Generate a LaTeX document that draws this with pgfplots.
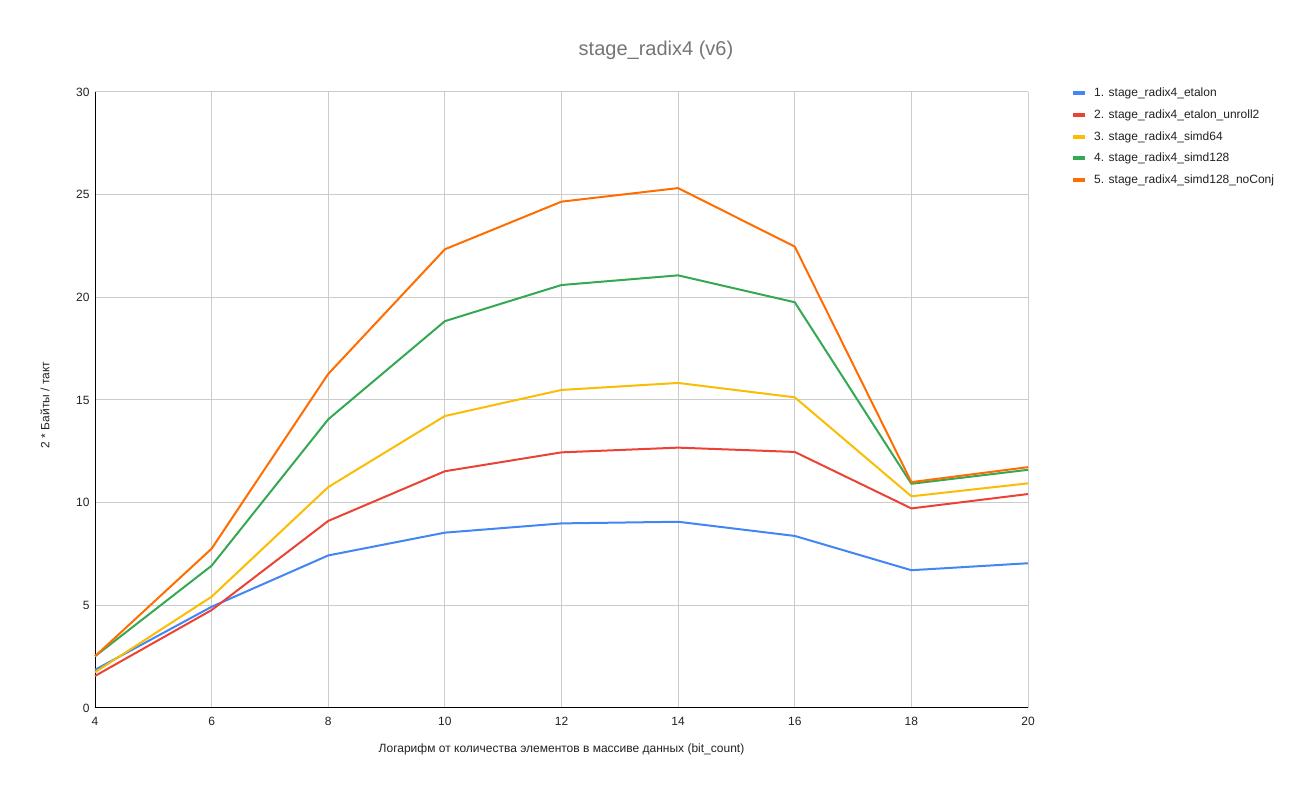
\documentclass[border=0pt]{standalone}
\usepackage{fontspec}
\setmainfont{Liberation Sans}
\usepackage{pgfplots}
\pgfplotsset{compat=1.18}
\definecolor{cBlue}{HTML}{4285F4}
\definecolor{cRed}{HTML}{EA4335}
\definecolor{cYellow}{HTML}{FBBC04}
\definecolor{cGreen}{HTML}{34A853}
\definecolor{cOrange}{HTML}{FF6D01}
\definecolor{cGrid}{HTML}{CCCCCC}
\definecolor{cTitle}{HTML}{757575}
\definecolor{cText}{HTML}{222222}
\begin{document}
\begin{tikzpicture}
\useasboundingbox (0,0) rectangle (1300bp,795bp);
\node[text=cTitle, font=\fontsize{20bp}{24bp}\selectfont] at (656bp,745bp) {stage\_radix4 (v6)};
\begin{axis}[
  at={(95bp,87bp)}, anchor=south west,
  scale only axis, width=933bp, height=616bp,
  xmin=4, xmax=20, ymin=0, ymax=30,
  xtick={4,6,...,20}, ytick={0,5,...,30},
  axis x line*=bottom, axis y line*=left,
  axis line style={-, draw=black, line width=1bp},
  grid=major, major grid style={draw=cGrid, line width=1bp},
  major tick length=0pt,
  /pgf/number format/assume math mode=true,
  tick label style={font=\fontsize{12bp}{14bp}\selectfont, text=cText},
  xticklabel style={yshift=-6bp},
  yticklabel style={xshift=-2bp},
  xlabel={Логарифм от количества элементов в массиве данных (bit\_count)},
  ylabel={2 * Байты / такт},
  label style={font=\fontsize{12bp}{14bp}\selectfont, text=cText},
  xlabel style={at={(axis description cs:0.5,-0.068)}, anchor=center},
  ylabel style={at={(axis description cs:-0.0536,0.492)}, anchor=center, rotate=0},
  legend style={draw=none, at={(axis description cs:1.0461,1.0066)}, anchor=north west,
    font=\fontsize{12bp}{14bp}\selectfont, text=cText,
    row sep=11.5bp, inner sep=0pt,
    nodes={inner sep=0pt, anchor=west}},
  legend cell align=left,
  legend image code/.code={\draw[#1, line width=4bp] (0bp,0bp) -- (12bp,0bp);},
  every axis plot/.append style={line width=2bp, line join=round},
  clip=false,
]
\addplot[cBlue] coordinates {(4,1.86) (6,4.93) (8,7.43) (10,8.54) (12,8.99) (14,9.07) (16,8.38) (18,6.71) (20,7.05)};
\addlegendentry{\hspace{7bp}1. stage\_radix4\_etalon}
\addplot[cRed] coordinates {(4,1.56) (6,4.77) (8,9.11) (10,11.53) (12,12.45) (14,12.68) (16,12.47) (18,9.72) (20,10.42)};
\addlegendentry{\hspace{7bp}2. stage\_radix4\_etalon\_unroll2}
\addplot[cYellow] coordinates {(4,1.74) (6,5.42) (8,10.76) (10,14.22) (12,15.49) (14,15.83) (16,15.13) (18,10.31) (20,10.94)};
\addlegendentry{\hspace{7bp}3. stage\_radix4\_simd64}
\addplot[cGreen] coordinates {(4,2.52) (6,6.93) (8,14.06) (10,18.84) (12,20.6) (14,21.07) (16,19.76) (18,10.92) (20,11.6)};
\addlegendentry{\hspace{7bp}4. stage\_radix4\_simd128}
\addplot[cOrange] coordinates {(4,2.52) (6,7.76) (8,16.27) (10,22.34) (12,24.66) (14,25.32) (16,22.47) (18,11.0) (20,11.73)};
\addlegendentry{\hspace{7bp}5. stage\_radix4\_simd128\_noConj}
\end{axis}
\end{tikzpicture}
\end{document}
